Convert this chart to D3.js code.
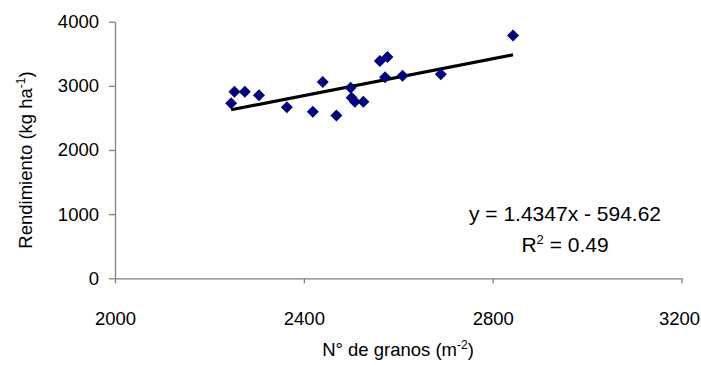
<!DOCTYPE html>
<html>
<head>
<meta charset="utf-8">
<script src="https://cdn.jsdelivr.net/npm/d3@7"></script>
<style>
  body { margin: 0; background: #fff; }
  svg { display: block; font-family: "Liberation Sans", Arial, sans-serif; }
</style>
</head>
<body>
<div id="chart"></div>
<script>
// grains per m2 vs yield
const granos = [2246, 2253, 2275, 2305, 2364, 2419, 2440, 2469, 2499, 2501, 2508, 2526, 2561, 2577, 2572, 2609, 2690, 2843];
const rendimiento = [2728, 2909, 2909, 2853, 2666, 2597, 3060, 2538, 2971, 2815, 2753, 2753, 3387, 3450, 3133, 3158, 3180, 3785];
const xTicks = [2000, 2400, 2800, 3200];
const yTicks = [0, 1000, 2000, 3000, 4000];
const slope = 1.4347, intercept = -594.62, r2 = 0.49;

const width = 701, height = 365;
const margin = { top: 21.7, right: 19.4, bottom: 86.7, left: 115 };
const w = width - margin.left - margin.right;
const h = height - margin.top - margin.bottom;

const svg = d3.select('#chart').append('svg')
  .attr('width', width)
  .attr('height', height);

const g = svg.append('g')
  .attr('transform', `translate(${margin.left},${margin.top})`);

const x = d3.scaleLinear().domain([2000, 3200]).range([0, w]);
const y = d3.scaleLinear().domain([0, 4000]).range([h, 0]);

const axisColor = '#808080';
const fmt = d3.format('d');

const xAxis = g.append('g')
  .attr('transform', `translate(0,${h})`)
  .call(d3.axisBottom(x).tickValues(xTicks).tickFormat(fmt).tickSize(5).tickPadding(29).tickSizeOuter(0));

const yAxis = g.append('g')
  .call(d3.axisLeft(y).tickValues(yTicks).tickFormat(fmt).tickSize(6).tickPadding(10).tickSizeOuter(0));

[xAxis, yAxis].forEach(a => {
  a.select('.domain').attr('stroke', axisColor).attr('stroke-width', 1.3);
  a.selectAll('.tick line').attr('stroke', axisColor).attr('stroke-width', 1.3);
  a.selectAll('.tick text').attr('fill', '#000').style('font-size', '18.5px')
    .style('font-family', '"Liberation Sans", Arial, sans-serif');
});

// last label sits right at the edge, keep it inside
xAxis.selectAll('.tick text').filter(d => d === 3200)
  .attr('text-anchor', 'end').attr('x', 18);

// trend line over the data range
const xr = d3.extent(granos);
g.append('line')
  .attr('x1', x(xr[0])).attr('y1', y(slope * xr[0] + intercept))
  .attr('x2', x(xr[1])).attr('y2', y(slope * xr[1] + intercept))
  .attr('stroke', '#000')
  .attr('stroke-width', 3.2);

const points = granos.map((d, i) => ({ x: d, y: rendimiento[i] }));
g.selectAll('.pt')
  .data(points)
  .enter().append('path')
  .attr('class', 'pt')
  .attr('d', d3.symbol().type(d3.symbolDiamond2).size(92))
  .attr('transform', d => `translate(${x(d.x)},${y(d.y)})`)
  .attr('fill', '#000080');

// equation
svg.append('text')
  .attr('x', 565).attr('y', 221)
  .attr('text-anchor', 'middle')
  .style('font-size', '21px')
  .text(`y = ${slope}x - ${Math.abs(intercept)}`);

const rt = svg.append('text')
  .attr('x', 565).attr('y', 252)
  .attr('text-anchor', 'middle')
  .style('font-size', '21px');
rt.append('tspan').text('R');
rt.append('tspan').attr('dy', -8).style('font-size', '13px').text('2');
rt.append('tspan').attr('dy', 8).text(` = ${r2}`);

// axis titles
const xt = svg.append('text')
  .attr('x', 398).attr('y', 356)
  .attr('text-anchor', 'middle')
  .style('font-size', '18.5px');
xt.append('tspan').text('N° de granos (m');
xt.append('tspan').attr('dy', -7).style('font-size', '12px').text('-2');
xt.append('tspan').attr('dy', 7).text(')');

const yt = svg.append('text')
  .attr('transform', 'translate(32,160) rotate(-90)')
  .attr('text-anchor', 'middle')
  .style('font-size', '18.5px');
yt.append('tspan').text('Rendimiento (kg ha');
yt.append('tspan').attr('dy', -7).style('font-size', '12px').text('-1');
yt.append('tspan').attr('dy', 7).text(')');
</script>
</body>
</html>
